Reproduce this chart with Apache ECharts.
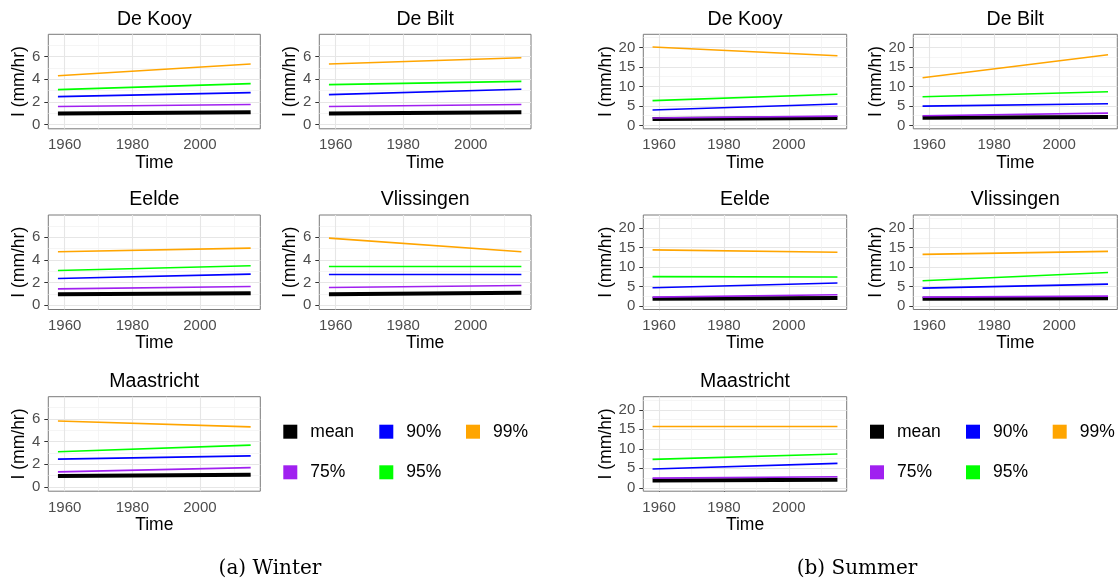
<!DOCTYPE html>
<html>
<head>
<meta charset="utf-8">
<script src="https://cdn.jsdelivr.net/npm/echarts/dist/echarts.min.js"></script>
<style>
  html, body { margin: 0; padding: 0; background: #ffffff; }
  #chart { width: 1118px; height: 584px; }
</style>
</head>
<body>
<div id="chart"></div>
<script>
// ---------------- DATA ----------------
const stations = ['De Kooy', 'De Bilt', 'Eelde', 'Vlissingen', 'Maastricht'];
const seasons = ['Winter', 'Summer'];
const captions = ['(a) Winter', '(b) Summer'];
const quantileNames = ['mean', '75%', '90%', '95%', '99%'];
const quantileColors = ['#000000', '#A020F0', '#0000FF', '#00FF00', '#FFA500'];
const years = [1958, 2015];
const xTicks = [1960, 1980, 2000];
const xMinorTicks = [1970, 1990, 2010];
const winterYTicks = [0, 2, 4, 6];
const winterYMinor = [1, 3, 5, 7];
const summerYTicks = [0, 5, 10, 15, 20];
const summerYMinor = [2.5, 7.5, 12.5, 17.5, 22.5];

// per station: [value in 1958, value in 2015]  (mm/hr)
const winterMean = [[0.97, 1.08], [0.97, 1.08], [0.97, 1.06], [0.97, 1.09], [0.97, 1.07]];
const winterQ75  = [[1.58, 1.76], [1.58, 1.76], [1.44, 1.65], [1.56, 1.74], [1.32, 1.70]];
const winterQ90  = [[2.46, 2.81], [2.63, 3.10], [2.35, 2.74], [2.71, 2.71], [2.45, 2.73]];
const winterQ95  = [[3.07, 3.60], [3.51, 3.80], [3.06, 3.47], [3.41, 3.41], [3.10, 3.68]];
const winterQ99  = [[4.30, 5.33], [5.33, 5.88], [4.71, 5.03], [5.91, 4.71], [5.81, 5.29]];

const summerMean = [[1.63, 1.89], [1.95, 2.15], [1.89, 2.06], [1.88, 2.05], [1.89, 2.06]];
const summerQ75  = [[1.89, 2.40], [2.48, 3.16], [2.32, 2.92], [2.31, 2.56], [2.49, 2.83]];
const summerQ90  = [[3.95, 5.49], [4.96, 5.56], [4.72, 5.92], [4.62, 5.64], [4.81, 6.27]];
const summerQ95  = [[6.35, 7.98], [7.35, 8.63], [7.55, 7.47], [6.50, 8.63], [7.30, 8.67]];
const summerQ99  = [[20.09, 17.85], [12.22, 18.12], [14.42, 13.82], [13.25, 14.02], [15.71, 15.71]];

// ---------------- LAYOUT ----------------
const seasonSeries = {
  Winter: [winterMean, winterQ75, winterQ90, winterQ95, winterQ99],
  Summer: [summerMean, summerQ75, summerQ90, summerQ95, summerQ99]
};
const seasonYTicks = { Winter: winterYTicks, Summer: summerYTicks };
const seasonYMinor = { Winter: winterYMinor, Summer: summerYMinor };
const seasonYRange = { Winter: [-0.38, 7.95], Summer: [-0.86, 23.35] };
const seasonYNameGap = { Winter: 17.5, Summer: 27.5 };
const seasonCols = {
  Winter: [{ left: 48.3, width: 212 }, { left: 319.3, width: 211.7 }],
  Summer: [{ left: 643.3, width: 203.4 }, { left: 913.3, width: 204 }]
};
const rowTops = [34.3, 215, 396.7];
const panelH = 94.5;
const xRange = [1955.15, 2017.85];
const legendX = { Winter: [283.3, 379.3, 466], Summer: [870, 966, 1052.7] };
const legendRowsY = [431.7, 472.3];
const captionX = { Winter: 270, Summer: 857 };

const FONT = 'Liberation Sans';
const option = {
  animation: false,
  backgroundColor: '#ffffff',
  textStyle: { fontFamily: FONT },
  title: [],
  legend: [],
  grid: [],
  xAxis: [],
  yAxis: [],
  series: []
};

let gi = 0;
seasons.forEach((season, si) => {
  stations.forEach((st, k) => {
    const row = Math.floor(k / 2), col = k % 2;
    const c = seasonCols[season][col];
    const top = rowTops[row];
    option.grid.push({
      left: c.left, top: top, width: c.width, height: panelH,
      show: true, backgroundColor: '#ffffff', borderColor: '#7a7a7a', borderWidth: 1
    });
    option.title.push({
      text: st, left: c.left + c.width / 2, top: top - 25, textAlign: 'center', padding: 0,
      textStyle: { fontFamily: FONT, fontSize: 19.5, fontWeight: 'normal', color: '#000' }
    });
    option.xAxis.push({
      gridIndex: gi, type: 'value', min: xRange[0], max: xRange[1],
      axisLine: { show: false },
      axisTick: { show: true, customValues: xTicks, length: 4, lineStyle: { color: '#333333', width: 1 } },
      axisLabel: { customValues: xTicks, formatter: v => String(v), fontSize: 15, color: '#4d4d4d', margin: 9, fontFamily: FONT },
      splitLine: { show: false },
      name: 'Time', nameLocation: 'middle', nameGap: 24,
      nameTextStyle: { fontSize: 17.5, color: '#000', fontFamily: FONT }
    });
    option.yAxis.push({
      gridIndex: gi, type: 'value', min: seasonYRange[season][0], max: seasonYRange[season][1],
      axisLine: { show: false },
      axisTick: { show: true, customValues: seasonYTicks[season], length: 4, lineStyle: { color: '#333333', width: 1 } },
      axisLabel: { customValues: seasonYTicks[season], formatter: v => String(v), fontSize: 15, color: '#4d4d4d', margin: 8, fontFamily: FONT },
      splitLine: { show: false },
      name: 'I (mm/hr)', nameLocation: 'middle', nameGap: seasonYNameGap[season], nameRotate: 90,
      nameTextStyle: { fontSize: 17.5, color: '#000', fontFamily: FONT }
    });
    // background grid lines
    const ml = [];
    seasonYTicks[season].forEach(v => ml.push({ yAxis: v, lineStyle: { color: '#E6E6E6', width: 1.1, type: 'solid' } }));
    seasonYMinor[season].forEach(v => { if (v < seasonYRange[season][1]) ml.push({ yAxis: v, lineStyle: { color: '#F0F0F0', width: 0.7, type: 'solid' } }); });
    xTicks.forEach(v => ml.push({ xAxis: v, lineStyle: { color: '#E6E6E6', width: 1.1, type: 'solid' } }));
    xMinorTicks.forEach(v => ml.push({ xAxis: v, lineStyle: { color: '#F0F0F0', width: 0.7, type: 'solid' } }));
    option.series.push({
      type: 'line', xAxisIndex: gi, yAxisIndex: gi, data: [], silent: true, z: 1,
      markLine: { silent: true, z: 1, symbol: ['none', 'none'], label: { show: false }, animation: false, data: ml }
    });
    // data lines
    seasonSeries[season].forEach((arr, q) => {
      const vals = arr[k];
      option.series.push({
        type: 'line', name: quantileNames[q], xAxisIndex: gi, yAxisIndex: gi,
        data: years.map((yr, i) => [yr, vals[i]]),
        symbol: 'none', showSymbol: false, silent: true, z: 3,
        color: quantileColors[q],
        itemStyle: { color: quantileColors[q] },
        lineStyle: { color: quantileColors[q], width: q === 0 ? 4 : 1.6 },
        emphasis: { disabled: true }
      });
    });
    gi++;
  });

  // legend: column-major, 2 rows
  quantileNames.forEach((qn, q) => {
    const colIdx = Math.floor(q / 2), rowIdx = q % 2;
    option.legend.push({
      data: [qn], left: legendX[season][colIdx], top: legendRowsY[rowIdx] - 10,
      orient: 'horizontal', padding: 0, itemWidth: 14, itemHeight: 14, icon: 'rect',
      selectedMode: false,
      itemStyle: { borderWidth: 0 },
      textStyle: { fontSize: 17.5, color: '#000', fontFamily: FONT, lineHeight: 20, padding: [0, 0, 0, 8] }
    });
  });

  option.title.push({
    text: captions[si], left: captionX[season], top: 559, textAlign: 'center', padding: 0,
    textStyle: { fontFamily: 'DejaVu Serif', fontSize: 20, fontWeight: 'normal', color: '#000' }
  });
});

const chart = echarts.init(document.getElementById('chart'), null, { renderer: 'canvas' });
chart.setOption(option);
</script>
</body>
</html>
